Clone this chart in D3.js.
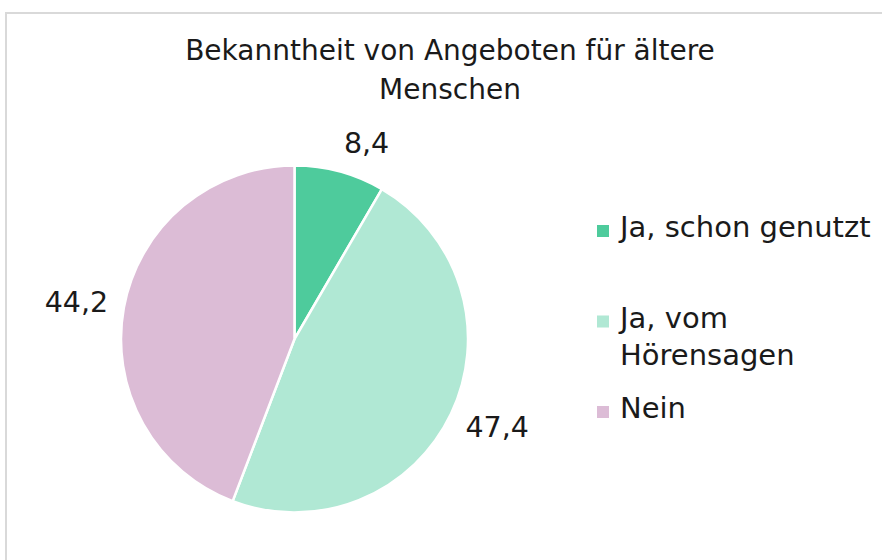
<!DOCTYPE html>
<html>
<head>
<meta charset="utf-8">
<script src="https://cdn.jsdelivr.net/npm/d3@7"></script>
<style>
  body { margin: 0; background: #fff; }
  text { font-family: "DejaVu Sans", sans-serif; fill: #1a1a1a; }
</style>
</head>
<body>
<div id="vis"></div>
<script>
var titleLines = ['Bekanntheit von Angeboten für ältere', 'Menschen'];
var categories = ['Ja, schon genutzt', 'Ja, vom Hörensagen', 'Nein'];
var values = [8.4, 47.4, 44.2];
var colors = ['#4ecb9c', '#b0e8d4', '#dcbcd6'];

var W = 882, H = 560;
var cx = 294.5, cy = 339, r = 173.5;

var svg = d3.select('#vis')
    .append('svg')
        .attr('width', W)
        .attr('height', H);

// chart frame (runs off the right and bottom edge)
svg.append('rect')
    .attr('x', 6).attr('y', 13)
    .attr('width', W + 20).attr('height', H + 20)
    .attr('fill', 'none')
    .attr('stroke', '#d9d9d9')
    .attr('stroke-width', 2);

svg.append('g')
    .selectAll('text')
    .data(titleLines)
    .enter()
    .append('text')
        .attr('x', 450)
        .attr('y', (d, i) => 60 + i * 39)
        .attr('text-anchor', 'middle')
        .style('font-size', '28px')
        .text(d => d);

var pie = d3.pie().sort(null).value(d => d);
var arcs = pie(values);
var arc = d3.arc().innerRadius(0).outerRadius(r);

var g = svg.append('g')
    .attr('transform', 'translate(' + cx + ',' + cy + ')');

g.selectAll('path')
    .data(arcs)
    .enter()
    .append('path')
        .attr('d', arc)
        .attr('fill', (d, i) => colors[i])
        .attr('stroke', '#fff')
        .attr('stroke-width', 2.5);

// data labels, outside end
var fmt = v => String(v).replace('.', ',');
var labels = g.selectAll('text.lbl')
    .data(arcs)
    .enter()
    .append('text')
        .attr('class', 'lbl')
        .attr('text-anchor', 'middle')
        .style('font-size', '28.5px')
        .text(d => fmt(d.data));

labels.each(function(d) {
    var a = (d.startAngle + d.endAngle) / 2;
    var s = Math.sin(a), c = Math.cos(a);
    var w = this.getComputedTextLength();
    var pad = 16, h = 28;
    var x = (r + pad) * s + Math.sign(s) * w / 2;
    var y = -(r + pad) * c - c * h / 2;
    d3.select(this).attr('x', x).attr('y', y + 10);
});

// legend
var legend = svg.append('g')
    .attr('transform', 'translate(597,0)');

var item = legend.selectAll('g')
    .data(categories)
    .enter()
    .append('g')
        .attr('transform', (d, i) => 'translate(0,' + (237 + i * 90.5) + ')');

item.append('rect')
    .attr('x', 0).attr('y', -12)
    .attr('width', 12).attr('height', 12)
    .attr('fill', (d, i) => colors[i]);

item.append('text')
    .attr('x', 23)
    .style('font-size', '29px')
    .each(function(d) {
        var t = d3.select(this);
        var words = d.split(' '), line = [];
        var ts = t.append('tspan').attr('x', 23).attr('dy', 0);
        words.forEach(function(wd) {
            line.push(wd);
            ts.text(line.join(' '));
            if (ts.node().getComputedTextLength() > 262 && line.length > 1) {
                line.pop();
                ts.text(line.join(' '));
                line = [wd];
                ts = t.append('tspan').attr('x', 23).attr('dy', 37).text(wd);
            }
        });
    });
</script>
</body>
</html>
